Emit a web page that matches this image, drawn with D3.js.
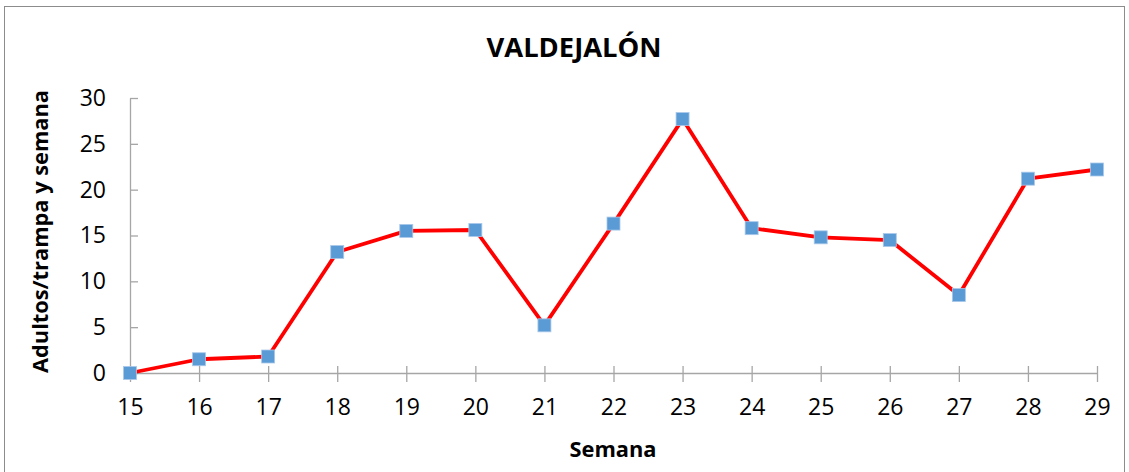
<!DOCTYPE html>
<meta charset="utf-8">
<style>
  body { margin: 0; background: #fff; }
  svg { font-family: "Open Sans", "Liberation Sans", sans-serif; }
  .axis path, .axis line { stroke: #a6a6a6; stroke-width: 1.3px; }
  .axis text { font-family: "Open Sans", "Liberation Sans", sans-serif; font-size: 23px; fill: #000; }
</style>
<body>
<script src="https://d3js.org/d3.v7.min.js"></script>
<script>
// weekly catches, Valdejalón
const semanas = [15, 16, 17, 18, 19, 20, 21, 22, 23, 24, 25, 26, 27, 28, 29];
const adultos = [0, 1.5, 1.8, 13.2, 15.5, 15.6, 5.2, 16.3, 27.7, 15.8, 14.8, 14.5, 8.5, 21.2, 22.2];
const yTicks = [0, 5, 10, 15, 20, 25, 30];

const width = 1129, height = 472;
const margin = {top: 98, right: 32, bottom: 99, left: 130};

const svg = d3.select('body').append('svg')
  .attr('width', width)
  .attr('height', height);

svg.append('rect')
  .attr('x', 4.5).attr('y', 6.5)
  .attr('width', 1120).attr('height', 490)
  .attr('fill', 'none')
  .attr('stroke', '#8c8c8c');

const x = d3.scaleLinear()
  .domain([15, 29])
  .range([margin.left, width - margin.right]);

const y = d3.scaleLinear()
  .domain([0, 30])
  .range([height - margin.bottom, margin.top]);

// axes, ticks crossing the line
const yAxis = svg.append('g')
  .attr('class', 'axis')
  .attr('transform', `translate(${margin.left},0)`)
  .call(d3.axisLeft(y).tickValues(yTicks).tickSize(9).tickPadding(15).tickSizeOuter(0));
yAxis.selectAll('.tick line').attr('x2', 8);

const xAxis = svg.append('g')
  .attr('class', 'axis')
  .attr('transform', `translate(0,${y(0)})`)
  .call(d3.axisBottom(x).tickValues(semanas).tickFormat(d3.format('d')).tickSize(9).tickPadding(17).tickSizeOuter(0));
xAxis.selectAll('.tick line').attr('y1', -7);

const line = d3.line()
  .x((d, i) => x(semanas[i]))
  .y(d => y(d));

svg.append('path')
  .datum(adultos)
  .attr('fill', 'none')
  .attr('stroke', '#ff0000')
  .attr('stroke-width', 3.8)
  .attr('stroke-linejoin', 'round')
  .attr('d', line);

const s = 13;
svg.selectAll('.marker')
  .data(adultos)
  .enter().append('rect')
  .attr('class', 'marker')
  .attr('x', (d, i) => x(semanas[i]) - s / 2)
  .attr('y', d => y(d) - s / 2)
  .attr('width', s)
  .attr('height', s)
  .attr('fill', '#5b9bd5')
  .attr('stroke', '#a9c8ea')
  .attr('stroke-width', 0.8);

svg.append('text')
  .attr('x', 574).attr('y', 57)
  .attr('text-anchor', 'middle')
  .attr('textLength', 175)
  .attr('lengthAdjust', 'spacingAndGlyphs')
  .style('font-size', '27px')
  .style('font-weight', 'bold')
  .text('VALDEJALÓN');

svg.append('text')
  .attr('x', 613).attr('y', 457)
  .attr('text-anchor', 'middle')
  .attr('textLength', 87)
  .attr('lengthAdjust', 'spacingAndGlyphs')
  .style('font-size', '21px')
  .style('font-weight', 'bold')
  .text('Semana');

svg.append('text')
  .attr('transform', 'translate(48,231.5) rotate(-90)')
  .attr('text-anchor', 'middle')
  .attr('textLength', 283)
  .attr('lengthAdjust', 'spacingAndGlyphs')
  .style('font-size', '22px')
  .style('font-weight', 'bold')
  .text('Adultos/trampa  y semana');
</script>
</body>
